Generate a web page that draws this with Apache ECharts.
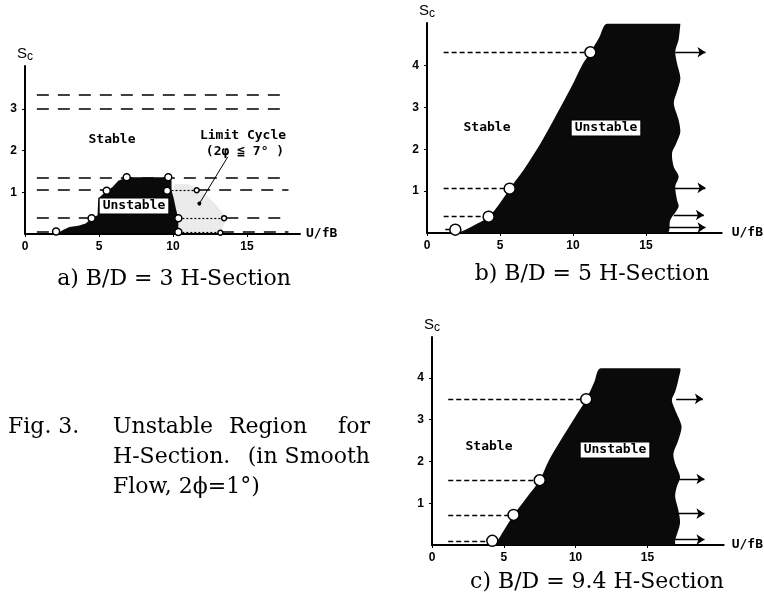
<!DOCTYPE html>
<html>
<head>
<meta charset="utf-8">
<script src="https://cdn.jsdelivr.net/npm/echarts@6/dist/echarts.min.js"></script>
<style>
html, body { margin: 0; padding: 0; background: #fff; }
#chart { width: 764px; height: 606px; }
</style>
</head>
<body>
<div id="chart"></div>
<script>
// tick labels
const xTicks = [0, 5, 10, 15]
const yTicksA = [1, 2, 3]
const yTicksBC = [1, 2, 3, 4]

// a) B/D=3  -- points are [U/fB, Sc]
const unstableA = [
  [2.2, 0.02], [2.6, 0.1], [3.0, 0.17], [3.6, 0.2], [4.1, 0.25], [4.5, 0.38], [4.9, 0.45],
  [4.95, 0.85], [5.5, 1.03], [5.9, 1.12], [6.3, 1.28], [6.87, 1.36], [9.68, 1.36], [9.9, 1.28],
  [9.9, 1.05], [10.05, 0.85], [10.2, 0.6], [10.36, 0.38], [10.36, 0.02]
]
const limitCycleA = [
  [10.2, 0.02], [13.2, 0.02], [13.5, 0.25], [13.5, 0.45], [12.9, 0.7], [12.3, 0.92],
  [11.8, 1.1], [11.0, 1.2], [10.1, 1.2], [9.95, 0.9]
]
const circlesA = [[2.1, 0.06], [4.5, 0.38], [5.52, 1.04], [6.87, 1.36], [9.68, 1.36], [9.6, 1.04], [10.36, 0.38], [10.36, 0.05]]
const smallCirclesA = [[11.6, 1.05], [13.45, 0.38], [13.2, 0.03]]
const dashA = [
  [[0.8, 3.35], [17.8, 3.35]], [[0.8, 3.0], [17.8, 3.0]], [[0.8, 1.35], [17.8, 1.35]],
  [[0.8, 1.06], [5.3, 1.06]], [[11.7, 1.06], [17.8, 1.06]],
  [[0.8, 0.38], [4.4, 0.38]], [[13.6, 0.38], [17.8, 0.38]],
  [[0.8, 0.05], [2.0, 0.05]], [[13.3, 0.05], [17.8, 0.05]]
]
const dottedA = [[[9.9, 1.05], [11.6, 1.05]], [[10.36, 0.38], [13.45, 0.38]], [[10.36, 0.03], [13.2, 0.03]]]
const leaderA = [[[13.7, 1.85], [11.78, 0.73]]]

// b) B/D=5
const unstableB = [
  [1.9, 0.0], [2.4, 0.04], [3.2, 0.18], [4.22, 0.39], [5.0, 0.72], [5.66, 1.06], [6.6, 1.5],
  [7.53, 2.0], [8.35, 2.5], [9.13, 3.0], [9.9, 3.5], [10.6, 4.0], [11.19, 4.32], [11.8, 4.68], [12.33, 5.0],
  [17.35, 5.0], [17.23, 4.62], [17.0, 4.34], [17.12, 4.06], [17.35, 3.7], [17.12, 3.38], [16.9, 3.1],
  [17.23, 2.7], [17.35, 2.42], [17.08, 2.15], [16.78, 1.91], [16.89, 1.59], [17.23, 1.35], [17.0, 1.11],
  [17.12, 0.79], [17.23, 0.63], [16.66, 0.31], [16.44, 0.0]
]
const circlesB = [[1.94, 0.08], [4.22, 0.39], [5.66, 1.06], [11.19, 4.32]]
const dashB = [[[1.14, 4.32], [11.19, 4.32]], [[1.14, 1.06], [5.66, 1.06]], [[1.14, 0.39], [4.22, 0.39]], [[1.25, 0.08], [1.94, 0.08]]]
const arrowsB = [[[17.0, 4.32], [19.07, 4.32]], [[16.9, 1.08], [19.07, 1.08]], [[16.9, 0.43], [18.96, 0.43]], [[16.4, 0.13], [19.07, 0.13]]]

// c) B/D=9.4
const unstableC = [
  [4.4, 0.0], [5.0, 0.35], [5.68, 0.72], [6.6, 1.14], [7.5, 1.55], [8.1, 2.0], [8.95, 2.5], [9.85, 3.0],
  [10.74, 3.49], [11.3, 3.9], [11.75, 4.23],
  [17.27, 4.23], [17.15, 3.95], [16.93, 3.67], [16.7, 3.47], [16.93, 3.23], [17.38, 2.83], [17.15, 2.51],
  [16.81, 2.19], [16.93, 1.95], [17.27, 1.63], [17.04, 1.39], [16.93, 1.16], [17.15, 0.84], [17.27, 0.52],
  [16.93, 0.12], [16.88, 0.0]
]
const circlesC = [[4.2, 0.1], [5.68, 0.72], [7.5, 1.55], [10.74, 3.49]]
const dashC = [[[1.13, 3.49], [10.74, 3.49]], [[1.13, 1.55], [7.5, 1.55]], [[1.13, 0.72], [5.68, 0.72]], [[1.13, 0.1], [4.2, 0.1]]]
const arrowsC = [[[17.0, 3.5], [18.86, 3.5]], [[17.2, 1.58], [18.97, 1.58]], [[17.0, 0.75], [18.97, 0.75]], [[16.9, 0.13], [18.97, 0.13]]]

const chart = echarts.init(document.getElementById('chart'), null, { renderer: 'canvas' })

const tickFont = { color: '#000', fontFamily: 'Liberation Sans', fontWeight: 'bold', fontSize: 12 }

const mkX = (idx, max, gap) => ({
  gridIndex: idx, type: 'value', min: 0, max: max,
  name: 'U/fB', nameLocation: 'end', nameGap: gap,
  nameTextStyle: { color: '#000', fontFamily: 'DejaVu Sans Mono', fontWeight: 'bold', fontSize: 13 },
  axisLine: { show: true, onZero: false, lineStyle: { color: '#000', width: 2 } },
  axisTick: { show: true, length: 3, customValues: xTicks, lineStyle: { color: '#000' } },
  axisLabel: Object.assign({ customValues: xTicks, margin: 7 }, tickFont),
  splitLine: { show: false }
})

const mkY = (idx, max, ticks) => ({
  gridIndex: idx, type: 'value', min: 0, max: max,
  name: '{s|S}{c|c}', nameLocation: 'end', nameGap: 3,
  nameTextStyle: {
    rich: {
      s: { color: '#000', fontFamily: 'Liberation Sans', fontSize: 15 },
      c: { color: '#000', fontFamily: 'Liberation Sans', fontSize: 12, padding: [6, 0, 0, 0], verticalAlign: 'bottom' }
    }
  },
  axisLine: { show: true, onZero: false, lineStyle: { color: '#000', width: 2 } },
  axisTick: { show: true, length: 3, customValues: ticks, lineStyle: { color: '#000' } },
  axisLabel: Object.assign({ customValues: ticks, margin: 8 }, tickFont),
  splitLine: { show: false }
})

const polygonSeries = (idx, points, fill, z, smooth) => ({
  type: 'custom', xAxisIndex: idx, yAxisIndex: idx, silent: true, z: z,
  data: [[0, 0]],
  renderItem: (params, api) => {
    const pts = points.map(p => api.coord(p))
    const xs = pts.map(p => p[0])
    const ys = pts.map(p => p[1])
    const box = [[Math.min(...xs), Math.min(...ys)], [Math.max(...xs), Math.max(...ys)]]
    return {
      type: 'polygon',
      shape: { points: pts, smooth: smooth || 0, smoothConstraint: box },
      style: { fill: fill }
    }
  }
})

const segSeries = (idx, segs, lineStyle, symbol, z, size) => ({
  type: 'lines', coordinateSystem: 'cartesian2d', xAxisIndex: idx, yAxisIndex: idx,
  silent: true, z: z,
  symbol: symbol || 'none', symbolSize: size || 8,
  lineStyle: Object.assign({ color: '#000', opacity: 1 }, lineStyle),
  data: segs.map(s => ({ coords: s }))
})

const dotSeries = (idx, pts, size, z) => ({
  type: 'scatter', xAxisIndex: idx, yAxisIndex: idx, silent: true, z: z,
  symbol: 'circle', symbolSize: size,
  itemStyle: { color: '#fff', borderColor: '#000', borderWidth: 1.5, opacity: 1 },
  data: pts
})

const label = (x, y, text, font, boxed, align) => ({
  type: 'text', x: x, y: y, z: 100,
  style: Object.assign({
    text: text, font: font, fill: '#000', align: align || 'center', verticalAlign: 'middle'
  }, boxed ? { backgroundColor: '#fff', borderColor: '#000', borderWidth: 1, padding: [1, 3] } : {})
})

const monoFont = 'bold 13px "DejaVu Sans Mono"'
const capFont = '22px "DejaVu Serif"'

chart.setOption({
  animation: false,
  grid: [
    { left: 25, top: 66, width: 275, height: 168 },
    { left: 427, top: 23, width: 296, height: 210 },
    { left: 432, top: 337, width: 298, height: 208 }
  ],
  xAxis: [mkX(0, 18.58, 6), mkX(1, 20.18, 10), mkX(2, 20.31, 8)],
  yAxis: [mkY(0, 4.03, yTicksA), mkY(1, 5.02, yTicksBC), mkY(2, 4.98, yTicksBC)],
  series: [
    // a
    segSeries(0, dashA, { width: 1.6, type: [12, 9] }, 'none', 2),
    polygonSeries(0, limitCycleA, 'rgba(0,0,0,0.08)', 3),
    polygonSeries(0, unstableA, '#0a0a0a', 3),
    segSeries(0, dottedA, { width: 1.2, type: [2, 2] }, 'none', 4),
    segSeries(0, leaderA, { width: 1 }, ['none', 'circle'], 4, 4),
    dotSeries(0, circlesA, 7, 5),
    dotSeries(0, smallCirclesA, 5, 5),
    // b
    segSeries(1, dashB, { width: 1.3, type: [5, 3] }, 'none', 2),
    polygonSeries(1, unstableB, '#0a0a0a', 3, 0.3),
    segSeries(1, arrowsB, { width: 1.3 }, ['none', 'arrow'], 4),
    dotSeries(1, circlesB, 11, 5),
    // c
    segSeries(2, dashC, { width: 1.3, type: [5, 3] }, 'none', 2),
    polygonSeries(2, unstableC, '#0a0a0a', 3, 0.3),
    segSeries(2, arrowsC, { width: 1.3 }, ['none', 'arrow'], 4),
    dotSeries(2, circlesC, 11, 5)
  ],
  graphic: [
    label(112, 140, 'Stable', monoFont),
    label(134, 206, 'Unstable', monoFont, true),
    label(243, 136, 'Limit Cycle', monoFont),
    label(245, 152, '(2\u03c6 \u2266 7\u00b0 )', monoFont),
    label(487, 128, 'Stable', monoFont),
    label(606, 128, 'Unstable', monoFont, true),
    label(489, 447, 'Stable', monoFont),
    label(615, 450, 'Unstable', monoFont, true),
    label(174, 279, 'a) B/D = 3 H-Section', capFont),
    label(592, 274, 'b) B/D = 5 H-Section', capFont),
    label(597, 582, 'c) B/D = 9.4 H-Section', capFont),
    label(8, 427, 'Fig. 3.', capFont, false, 'left'),
    label(113, 427, 'Unstable', capFont, false, 'left'),
    label(268, 427, 'Region', capFont, false, 'center'),
    label(370, 427, 'for', capFont, false, 'right'),
    label(113, 457, 'H-Section.', capFont, false, 'left'),
    label(370, 457, '(in Smooth', capFont, false, 'right'),
    label(113, 487, 'Flow, 2\u03d5=1\u00b0)', capFont, false, 'left')
  ]
})
</script>
</body>
</html>
